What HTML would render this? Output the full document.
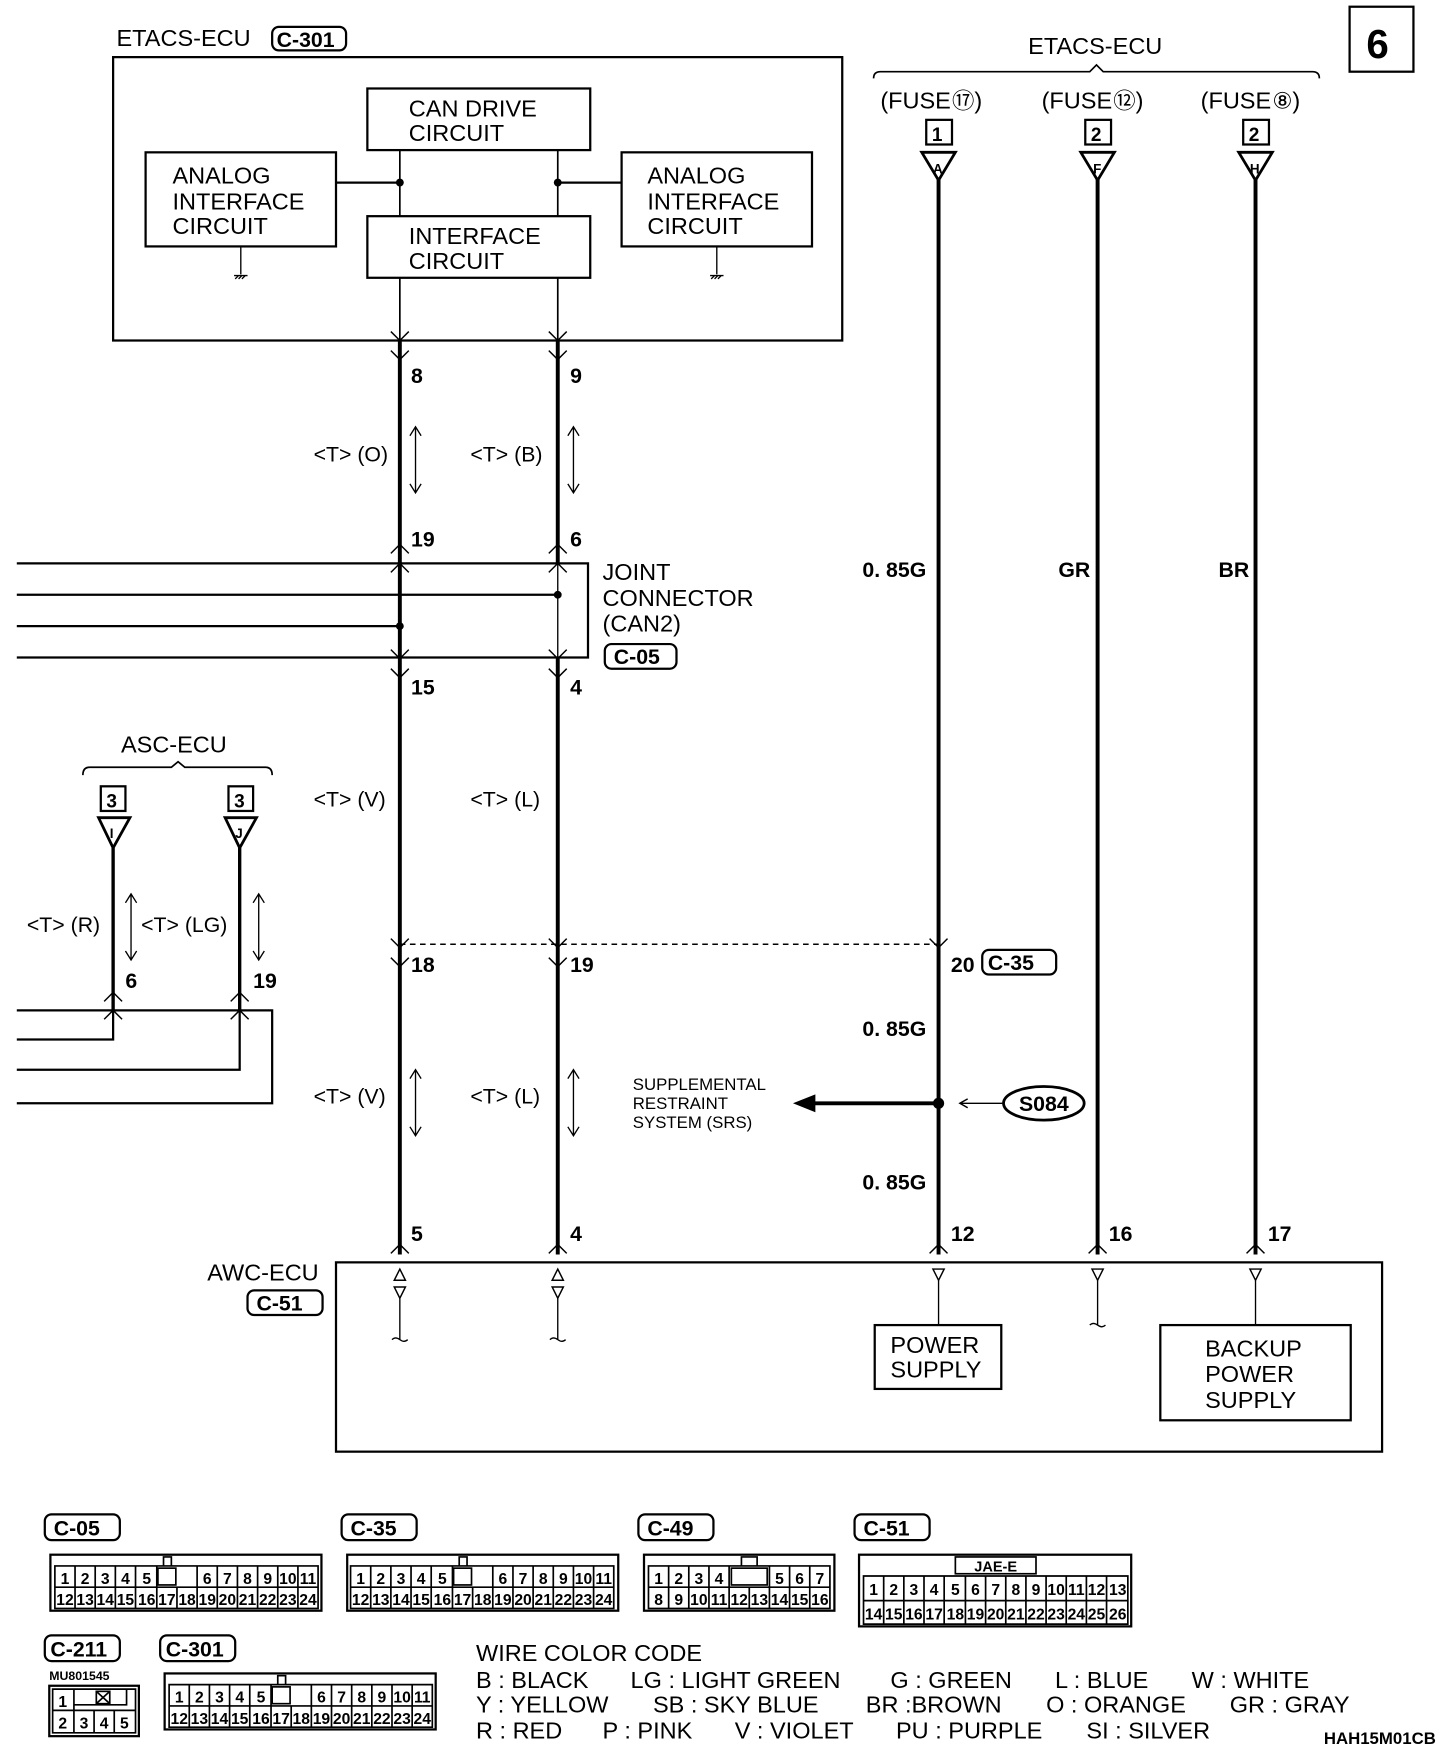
<!DOCTYPE html>
<html><head><meta charset="utf-8"><style>
html,body{margin:0;padding:0;background:#fff}
svg{display:block}
text{font-family:"Liberation Sans",sans-serif;fill:#000}
.b{font-weight:bold}
</style></head><body>
<svg width="1456" height="1744" viewBox="0 0 1300 1557" preserveAspectRatio="none" xmlns="http://www.w3.org/2000/svg">
<rect width="1300" height="1557" fill="#fff"/>
<g fill="none" stroke="#000">
<rect x="101" y="51" width="651" height="253" stroke-width="2"/>
<rect x="328" y="79" width="199" height="55" stroke-width="2"/>
<rect x="130" y="136" width="170" height="84" stroke-width="2"/>
<rect x="328" y="193" width="199" height="55" stroke-width="2"/>
<rect x="555" y="136" width="170" height="84" stroke-width="2"/>
<path d="M357 134V193M498 134V193M357 248V304M498 248V304" stroke-width="1.5"/>
<path d="M300 163H357M498 163H555" stroke-width="2"/>
<path d="M215 220V245M640 220V245M209 246h12M210 249l3 -3M213 249l3-3M216 249l3-3M634 246h12M635 249l3-3M638 249l3-3M641 249l3-3" stroke-width="1.2"/>
<rect x="243" y="24" width="66" height="21" rx="6" stroke-width="2"/>
<path d="M357 304V1120" stroke-width="3.5"/>
<path d="M498 304V1120" stroke-width="3.5"/>
<path d="M498 503V587" stroke="#fff" stroke-width="4"/>
<path d="M498 503V587" stroke-width="1.2"/>
<path d="M349 296l8 8 8-8M490 296l8 8 8-8M349 313l8 8 8-8M490 313l8 8 8-8" stroke-width="1.3"/>
<path d="M349 494l8-8 8 8M490 494l8-8 8 8M349 511l8-8 8 8M490 511l8-8 8 8" stroke-width="1.3"/>
<path d="M349 580l8 8 8-8M490 580l8 8 8-8M349 597l8 8 8-8M490 597l8 8 8-8" stroke-width="1.3"/>
<path d="M349 838l8 8 8-8M490 838l8 8 8-8M830 838l8 8 8-8M349 855l8 8 8-8M490 855l8 8 8-8" stroke-width="1.3"/>
<path d="M349 1119l8-8 8 8M490 1119l8-8 8 8M830 1119l8-8 8 8M972 1119l8-8 8 8M1113 1119l8-8 8 8" stroke-width="1.3"/>
<path d="M15 503H525V587H15" stroke-width="2"/>
<path d="M15 531H498M15 559H357" stroke-width="2"/>
<path d="M371 381V440M366 389l5-8 5 8M366 432l5 8 5-8M512 381V440M507 389l5-8 5 8M507 432l5 8 5-8" stroke-width="1.2"/>
<path d="M371 955V1014M366 963l5-8 5 8M366 1006l5 8 5-8M512 955V1014M507 963l5-8 5 8M507 1006l5 8 5-8" stroke-width="1.2"/>
<path d="M117 798V857M112 806l5-8 5 8M112 849l5 8 5-8M231 798V857M226 806l5-8 5 8M226 849l5 8 5-8" stroke-width="1.2"/>
<path d="M357 843H838" stroke-width="1.3" stroke-dasharray="5 4"/>
<path d="M74 692q0-7 6-7H153l6-5 6 5H237q6 0 6 7" stroke-width="1.5"/>
<rect x="90" y="702" width="22" height="22" stroke-width="2"/>
<rect x="204" y="702" width="22" height="22" stroke-width="2"/>
<path d="M88 730H116L101 757ZM201 730H229L214 757Z" stroke-width="2.5"/>
<path d="M101 757V902M214 757V902" stroke-width="3"/>
<path d="M93 894l8-8 8 8M206 894l8-8 8 8M93 910l8-8 8 8M206 910l8-8 8 8" stroke-width="1.3"/>
<path d="M15 902H243V985H15M15 928H101V902M15 955H214V902" stroke-width="2"/>
<path d="M780 70q0-6 6-6H973l6-6 6 6H1172q6 0 6 6" stroke-width="1.5"/>
<rect x="827" y="107" width="23" height="22" stroke-width="2"/>
<rect x="969" y="107" width="23" height="22" stroke-width="2"/>
<rect x="1110" y="107" width="23" height="22" stroke-width="2"/>
<path d="M823 136H853L838 161ZM965 136H995L980 161ZM1106 136H1136L1121 161Z" stroke-width="2.5"/>
<path d="M838 160V1120M980 160V1120M1121 160V1120" stroke-width="3.5"/>
<rect x="1205" y="6" width="57" height="58" stroke-width="2"/>
<rect x="877" y="848" width="66" height="22" rx="6" stroke-width="2"/>
<rect x="540" y="575" width="64" height="22" rx="6" stroke-width="2"/>
<path d="M838 985H725" stroke-width="3.5"/>
<path d="M895 985H857M864 981l-7 4 7 4" stroke-width="1.3"/>
<ellipse cx="932" cy="985" rx="36" ry="15" stroke-width="2.5"/>
<rect x="300" y="1127" width="934" height="169" stroke-width="2"/>
<rect x="221" y="1152" width="67" height="22" rx="6" stroke-width="2"/>
<path d="M352 1143h10l-5-10ZM352 1149h10l-5 10ZM493 1143h10l-5-10ZM493 1149h10l-5 10ZM833 1133h10l-5 10ZM975 1133h10l-5 10ZM1116 1133h10l-5 10Z" stroke-width="1.3"/>
<path d="M357 1159V1196M498 1159V1196M838 1143V1183M980 1143V1183M1121 1143V1183" stroke-width="1.2"/>
<path d="M350 1196q3-3 7 0t7 0M491 1196q3-3 7 0t7 0M973 1183q3-3 7 0t7 0" stroke-width="1.2"/>
<rect x="781" y="1183" width="113" height="57" stroke-width="2"/>
<rect x="1036" y="1183" width="170" height="85" stroke-width="2"/>
</g>
<g fill="#000">
<circle cx="357" cy="163" r="3.5"/><circle cx="498" cy="163" r="3.5"/>
<circle cx="498" cy="531" r="3.5"/><circle cx="357" cy="559" r="3.5"/>
<circle cx="838" cy="985" r="5"/>
<path d="M708 985L728 977V993Z"/>
</g>
<g font-size="21">
<text x="104" y="41">ETACS-ECU</text>
<text x="365" y="104">CAN DRIVE</text><text x="365" y="126">CIRCUIT</text>
<text x="154" y="164">ANALOG</text><text x="154" y="187">INTERFACE</text><text x="154" y="209">CIRCUIT</text>
<text x="365" y="218">INTERFACE</text><text x="365" y="240">CIRCUIT</text>
<text x="578" y="164">ANALOG</text><text x="578" y="187">INTERFACE</text><text x="578" y="209">CIRCUIT</text>
<text x="918" y="48">ETACS-ECU</text>
<text x="786" y="97">(FUSE<tspan font-size="20" dx="1">⑰</tspan>)</text>
<text x="930" y="97">(FUSE<tspan font-size="20" dx="1">⑫</tspan>)</text>
<text x="1072" y="97">(FUSE<tspan font-size="20" dx="1">⑧</tspan>)</text>
<text x="538" y="518">JOINT</text><text x="538" y="541">CONNECTOR</text><text x="538" y="564">(CAN2)</text>
<text x="108" y="672">ASC-ECU</text>
<text x="185" y="1143">AWC-ECU</text>
<text x="795" y="1208">POWER</text><text x="795" y="1230">SUPPLY</text>
<text x="1076" y="1211">BACKUP</text><text x="1076" y="1234">POWER</text><text x="1076" y="1257">SUPPLY</text>
<text x="425" y="1483">WIRE COLOR CODE</text>
<text x="425" y="1507">B : BLACK</text><text x="563" y="1507">LG : LIGHT GREEN</text><text x="795" y="1507">G : GREEN</text><text x="942" y="1507">L : BLUE</text><text x="1064" y="1507">W : WHITE</text>
<text x="425" y="1529">Y : YELLOW</text><text x="583" y="1529">SB : SKY BLUE</text><text x="773" y="1529">BR :BROWN</text><text x="934" y="1529">O : ORANGE</text><text x="1098" y="1529">GR : GRAY</text>
<text x="425" y="1552">R : RED</text><text x="538" y="1552">P : PINK</text><text x="656" y="1552">V : VIOLET</text><text x="800" y="1552">PU : PURPLE</text><text x="970" y="1552">SI : SILVER</text>
</g>
<g font-size="15">
<text x="565" y="973">SUPPLEMENTAL</text><text x="565" y="990">RESTRAINT</text><text x="565" y="1007">SYSTEM (SRS)</text>
</g>
<g font-size="19" class="b">
<text x="1220" y="52" font-size="36" font-weight="bold">6</text>
<text x="247" y="42">C-301</text>
<text x="548" y="593">C-05</text>
<text x="882" y="866">C-35</text>
<text x="229" y="1170">C-51</text>
<text x="932" y="992" text-anchor="middle">S084</text>
<text x="367" y="342">8</text><text x="509" y="342">9</text>
<text x="367" y="488">19</text><text x="509" y="488">6</text>
<text x="367" y="620">15</text><text x="509" y="620">4</text>
<text x="367" y="868">18</text><text x="509" y="868">19</text><text x="849" y="868">20</text>
<text x="112" y="882">6</text><text x="226" y="882">19</text>
<text x="367" y="1108">5</text><text x="509" y="1108">4</text><text x="849" y="1108">12</text><text x="990" y="1108">16</text><text x="1132" y="1108">17</text>
<text x="770" y="515">0. 85G</text><text x="945" y="515">GR</text><text x="1088" y="515">BR</text>
<text x="770" y="925">0. 85G</text><text x="770" y="1062">0. 85G</text>
<text x="832" y="126" font-size="17">1</text><text x="974" y="126" font-size="17">2</text><text x="1115" y="126" font-size="17">2</text>
<text x="95" y="721" font-size="17">3</text><text x="209" y="721" font-size="17">3</text>
<text x="833" y="155" font-size="12">A</text><text x="976" y="155" font-size="12">F</text><text x="1116" y="155" font-size="12">H</text>
<text x="98" y="748" font-size="12">I</text><text x="210" y="748" font-size="12">J</text>
<text x="1182" y="1557" font-size="15">HAH15M01CB</text>
</g>
<g font-size="19">
<text x="280" y="412">&lt;T&gt; (O)</text><text x="420" y="412">&lt;T&gt; (B)</text>
<text x="280" y="720">&lt;T&gt; (V)</text><text x="420" y="720">&lt;T&gt; (L)</text>
<text x="280" y="985">&lt;T&gt; (V)</text><text x="420" y="985">&lt;T&gt; (L)</text>
<text x="24" y="832">&lt;T&gt; (R)</text><text x="126" y="832">&lt;T&gt; (LG)</text>
</g>
<g fill="none" stroke="#000" stroke-width="2">
<rect x="40" y="1352" width="67" height="23" rx="6"/>
<rect x="305" y="1352" width="67" height="23" rx="6"/>
<rect x="570" y="1352" width="67" height="23" rx="6"/>
<rect x="763" y="1352" width="67" height="23" rx="6"/>
<rect x="40" y="1460" width="67" height="23" rx="6"/>
<rect x="143" y="1460" width="67" height="23" rx="6"/>
<rect x="45" y="1388" width="242" height="50"/>
<rect x="310" y="1388" width="242" height="50"/>
<rect x="575" y="1388" width="170" height="50"/>
<rect x="767" y="1388" width="243" height="64"/>
<rect x="147" y="1494" width="242" height="50"/>
<rect x="44" y="1505" width="80" height="45"/>
</g>
<g fill="none" stroke="#000" stroke-width="1.5">
<path d="M49 1398H284V1436H49ZM49 1417H284M67 1398V1436M85 1398V1436M103 1398V1436M121 1398V1436M140 1398V1436M176 1398V1436M194 1398V1436M212 1398V1436M230 1398V1436M248 1398V1436M266 1398V1436M158 1417V1436"/>
<rect x="141" y="1400" width="16" height="15"/><path d="M146 1398V1390H153V1398"/>
<path d="M310 1398H545V1436H310ZM310 1417H545M328 1398V1436M346 1398V1436M364 1398V1436M382 1398V1436M401 1398V1436M437 1398V1436M455 1398V1436M473 1398V1436M491 1398V1436M509 1398V1436M527 1398V1436M419 1417V1436" transform="translate(3 0)"/>
<rect x="405" y="1400" width="16" height="15"/><path d="M410 1398V1390H417V1398"/>
<path d="M151 1504H386V1542H151ZM151 1523H386M169 1504V1542M187 1504V1542M205 1504V1542M223 1504V1542M242 1504V1542M278 1504V1542M296 1504V1542M314 1504V1542M332 1504V1542M350 1504V1542M368 1504V1542M260 1523V1542"/>
<rect x="243" y="1506" width="16" height="15"/><path d="M248 1504V1496H255V1504"/>
<path d="M579 1398H741V1436H579ZM579 1417H741M597 1398V1436M615 1398V1436M633 1398V1436M651 1398V1436M687 1398V1436M705 1398V1436M723 1398V1436M669 1417V1436"/>
<rect x="653" y="1400" width="32" height="15"/><path d="M662 1398V1390H676V1398"/>
<path d="M771 1407H1007V1450H771ZM771 1429H1007M789 1407V1450M807 1407V1450M825 1407V1450M843 1407V1450M862 1407V1450M880 1407V1450M898 1407V1450M916 1407V1450M934 1407V1450M952 1407V1450M970 1407V1450M988 1407V1450"/>
<rect x="853" y="1390" width="72" height="15"/>
<path d="M47 1508H121V1547H47ZM47 1527H121M66 1508V1547M66 1527V1522H113V1508M84 1527V1547M102 1527V1547"/>
<rect x="86" y="1510" width="12" height="11"/><path d="M86 1510l12 11M98 1510l-12 11"/>
</g>
<g font-size="14" font-weight="bold" text-anchor="middle">
<text x="58" y="1414">1</text><text x="76" y="1414">2</text><text x="94" y="1414">3</text><text x="112" y="1414">4</text><text x="131" y="1414">5</text><text x="185" y="1414">6</text><text x="203" y="1414">7</text><text x="221" y="1414">8</text><text x="239" y="1414">9</text><text x="257" y="1414">10</text><text x="275" y="1414">11</text>
<text x="58" y="1433">12</text><text x="76" y="1433">13</text><text x="94" y="1433">14</text><text x="112" y="1433">15</text><text x="131" y="1433">16</text><text x="149" y="1433">17</text><text x="167" y="1433">18</text><text x="185" y="1433">19</text><text x="203" y="1433">20</text><text x="221" y="1433">21</text><text x="239" y="1433">22</text><text x="257" y="1433">23</text><text x="275" y="1433">24</text>
<text x="322" y="1414">1</text><text x="340" y="1414">2</text><text x="358" y="1414">3</text><text x="376" y="1414">4</text><text x="395" y="1414">5</text><text x="449" y="1414">6</text><text x="467" y="1414">7</text><text x="485" y="1414">8</text><text x="503" y="1414">9</text><text x="521" y="1414">10</text><text x="539" y="1414">11</text>
<text x="322" y="1433">12</text><text x="340" y="1433">13</text><text x="358" y="1433">14</text><text x="376" y="1433">15</text><text x="395" y="1433">16</text><text x="413" y="1433">17</text><text x="431" y="1433">18</text><text x="449" y="1433">19</text><text x="467" y="1433">20</text><text x="485" y="1433">21</text><text x="503" y="1433">22</text><text x="521" y="1433">23</text><text x="539" y="1433">24</text>
<text x="160" y="1520">1</text><text x="178" y="1520">2</text><text x="196" y="1520">3</text><text x="214" y="1520">4</text><text x="233" y="1520">5</text><text x="287" y="1520">6</text><text x="305" y="1520">7</text><text x="323" y="1520">8</text><text x="341" y="1520">9</text><text x="359" y="1520">10</text><text x="377" y="1520">11</text>
<text x="160" y="1539">12</text><text x="178" y="1539">13</text><text x="196" y="1539">14</text><text x="214" y="1539">15</text><text x="233" y="1539">16</text><text x="251" y="1539">17</text><text x="269" y="1539">18</text><text x="287" y="1539">19</text><text x="305" y="1539">20</text><text x="323" y="1539">21</text><text x="341" y="1539">22</text><text x="359" y="1539">23</text><text x="377" y="1539">24</text>
<text x="588" y="1414">1</text><text x="606" y="1414">2</text><text x="624" y="1414">3</text><text x="642" y="1414">4</text><text x="696" y="1414">5</text><text x="714" y="1414">6</text><text x="732" y="1414">7</text>
<text x="588" y="1433">8</text><text x="606" y="1433">9</text><text x="624" y="1433">10</text><text x="642" y="1433">11</text><text x="660" y="1433">12</text><text x="678" y="1433">13</text><text x="696" y="1433">14</text><text x="714" y="1433">15</text><text x="732" y="1433">16</text>
<text x="780" y="1424">1</text><text x="798" y="1424">2</text><text x="816" y="1424">3</text><text x="834" y="1424">4</text><text x="853" y="1424">5</text><text x="871" y="1424">6</text><text x="889" y="1424">7</text><text x="907" y="1424">8</text><text x="925" y="1424">9</text><text x="943" y="1424">10</text><text x="961" y="1424">11</text><text x="979" y="1424">12</text><text x="998" y="1424">13</text>
<text x="780" y="1446">14</text><text x="798" y="1446">15</text><text x="816" y="1446">16</text><text x="834" y="1446">17</text><text x="853" y="1446">18</text><text x="871" y="1446">19</text><text x="889" y="1446">20</text><text x="907" y="1446">21</text><text x="925" y="1446">22</text><text x="943" y="1446">23</text><text x="961" y="1446">24</text><text x="979" y="1446">25</text><text x="998" y="1446">26</text>
<text x="889" y="1403" font-size="13">JAE-E</text>
<text x="56" y="1524">1</text><text x="56" y="1543">2</text><text x="75" y="1543">3</text><text x="93" y="1543">4</text><text x="111" y="1543">5</text>
</g>
<g font-size="19" font-weight="bold">
<text x="48" y="1371">C-05</text><text x="313" y="1371">C-35</text><text x="578" y="1371">C-49</text><text x="771" y="1371">C-51</text>
<text x="45" y="1479">C-211</text><text x="148" y="1479">C-301</text>
<text x="44" y="1500" font-size="11">MU801545</text>
</g>
</svg>
</body></html>
